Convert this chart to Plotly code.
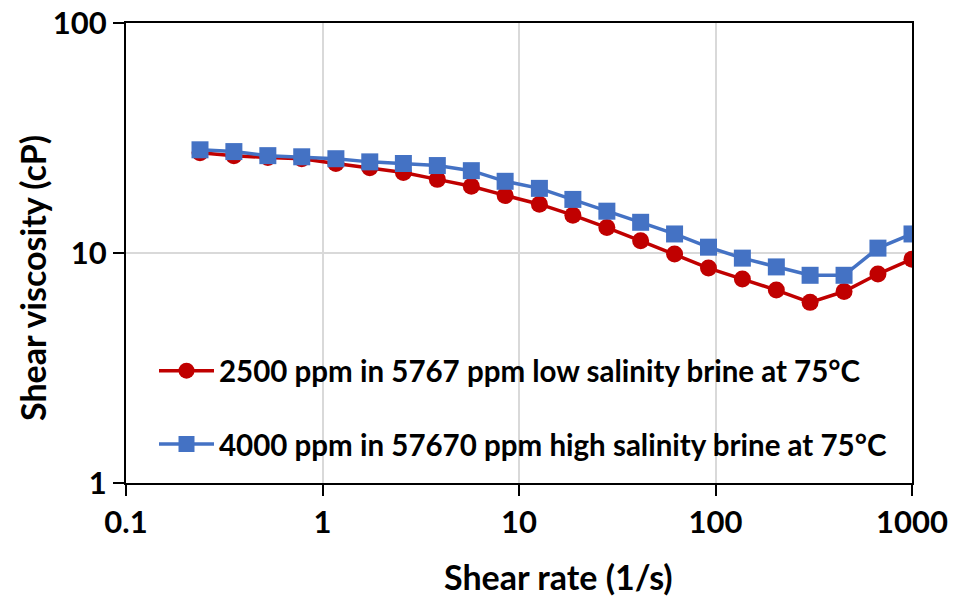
import plotly.graph_objects as go

shear_rate = [0.238, 0.354, 0.527, 0.784, 1.17, 1.74, 2.58, 3.84, 5.72, 8.50,
              12.7, 18.8, 28.0, 41.6, 61.9, 92.1, 137, 204, 303, 451, 671, 1000]
visc_low = [27.3, 26.5, 26.0, 25.7, 24.5, 23.5, 22.4, 20.9, 19.5, 17.8,
            16.3, 14.6, 12.9, 11.3, 9.9, 8.6, 7.7, 6.9, 6.1, 6.8, 8.1, 9.4]
visc_high = [28.1, 27.6, 26.5, 26.2, 25.7, 24.9, 24.5, 24.0, 22.8, 20.5,
             19.1, 17.1, 15.2, 13.6, 12.1, 10.6, 9.5, 8.7, 8.0, 8.0, 10.5, 12.1]

name_low = "2500 ppm in 5767 ppm low salinity brine at 75°C"
name_high = "4000 ppm in 57670 ppm high salinity brine at 75°C"
x_title = "Shear rate (1/s)"
y_title = "Shear viscosity (cP)"
x_ticks = [0.1, 1, 10, 100, 1000]
x_ticktext = ["0.1", "1", "10", "100", "1000"]
y_ticks = [1, 10, 100]
y_ticktext = ["1", "10", "100"]

FONT = "Lato"
L, R, T, B = 126, 41, 23, 118
PW, PH = 953 - L - R, 601 - T - B

fig = go.Figure()
fig.add_trace(go.Scatter(x=shear_rate, y=visc_low, name=name_low, mode="lines+markers",
                         line=dict(color="#C00000", width=3.5),
                         marker=dict(symbol="circle", size=17, color="#C00000"),
                         legendgroup="a"))
fig.add_trace(go.Scatter(x=shear_rate, y=visc_high, name=name_high, mode="lines+markers",
                         line=dict(color="#4472C4", width=3.5),
                         marker=dict(symbol="square", size=17, color="#4472C4"),
                         legendgroup="b"))

axis_common = dict(showgrid=True, gridcolor="#D9D9D9", gridwidth=1.5,
                   showline=True, linecolor="black", linewidth=2, mirror=True,
                   ticks="outside", ticklen=11, tickwidth=1.5, tickcolor="black",
                   tickfont=dict(family=FONT, size=31, weight="bold", color="black"),
                   zeroline=False, automargin=False)

fig.update_layout(
    width=953, height=601,
    margin=dict(l=L, r=R, t=T, b=B, autoexpand=False),
    paper_bgcolor="white", plot_bgcolor="white",
    font=dict(family=FONT, size=28, color="black"),
    showlegend=True,
    legend=dict(x=(154 - L) / PW, y=(601 - B - 345) / PH, xanchor="left", yanchor="top",
                bgcolor="rgba(0,0,0,0)", borderwidth=0,
                font=dict(family=FONT, size=29.5, color="black", weight="bold"),
                traceorder="grouped", tracegroupgap=32, itemwidth=55),
    xaxis=dict(type="log", range=[-1, 3], tickvals=x_ticks, ticktext=x_ticktext, **axis_common),
    yaxis=dict(type="log", range=[0, 2], tickvals=y_ticks, ticktext=y_ticktext, **axis_common),
    annotations=[
        dict(text=x_title, xref="paper", yref="paper", x=(558 - L) / PW, y=-(576 - (601 - B)) / PH,
             xanchor="center", yanchor="middle", showarrow=False,
             font=dict(family=FONT, size=34, weight="bold")),
        dict(text=y_title, xref="paper", yref="paper", x=-(L - 32) / PW, y=((601 - B) - 278) / PH,
             xanchor="center", yanchor="middle", showarrow=False, textangle=-90,
             font=dict(family=FONT, size=34, weight="bold")),
    ],
)

fig.write_html("out.html", config={"displayModeBar": False},
               post_script="document.body.style.margin='0';")
